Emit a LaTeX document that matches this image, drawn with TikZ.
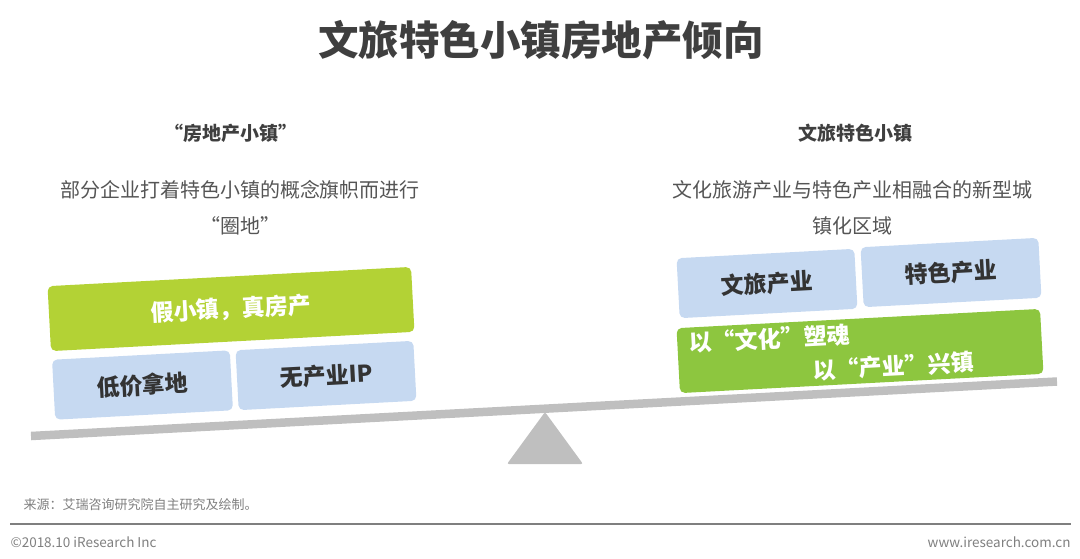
\documentclass[tikz,border=0pt]{standalone}
\usepackage{fontspec}
\setmainfont{Noto Sans CJK SC}
\usepackage{xcolor}
\usetikzlibrary{calc}
\definecolor{titlegray}{HTML}{3F3F3F}
\definecolor{descgray}{HTML}{555555}
\definecolor{footgray}{HTML}{7F7F7F}
\definecolor{beamgray}{HTML}{BFBFBF}
\definecolor{boxblue}{HTML}{C6D9F1}
\definecolor{boxtext}{HTML}{333333}
\definecolor{leftgreen}{HTML}{B3D235}
\definecolor{rightgreen}{HTML}{8DC63F}

\begin{document}
\begin{tikzpicture}[x=1pt,y=-1pt,
    box/.style={rotate=3.04, rounded corners=5pt, inner sep=0pt,
        minimum width=178pt, minimum height=60pt,
        font=\fontsize{23}{34}\selectfont\bfseries},
    bluebox/.style={box, fill=boxblue, text=boxtext},
    greenbox/.style={box, text=white, minimum width=364pt, minimum height=65pt},
    head/.style={text=titlegray, font=\fontsize{19}{24}\selectfont\bfseries},
    desc/.style={text=descgray, align=center, font=\fontsize{20}{36}\selectfont},
    foot/.style={text=footgray, font=\fontsize{13.5}{16}\selectfont}]
			\useasboundingbox (0,0) rectangle (1080,558);
			\coordinate (L) at (31,436);
			\coordinate (R) at (1057,381.5);
			\coordinate (T) at (545,412);
			\coordinate (P) at (507,464);
			\coordinate (Q) at (583,464);
			\coordinate (F1) at (10,524);
			\coordinate (F2) at (1071,524);
			\fill[beamgray, rounded corners=2pt] (T) -- (Q) -- (P) -- cycle;
			\draw[beamgray, line width=8.5pt] (L) -- (R);
			\node[text=titlegray, font=\fontsize{40.5}{44}\selectfont\bfseries] (title) at (541,40) {文旅特色小镇房地产倾向};
			\node[head] (lh) at (231,133) {“房地产小镇”};
			\node[desc] (ld) at (240,208) {部分企业打着特色小镇的概念旗帜而进行\\“圈地”};
			\node[head] (rh) at (855,133) {文旅特色小镇};
			\node[desc] (rd) at (852,208) {文化旅游产业与特色产业相融合的新型城\\镇化区域};
			\node[greenbox, fill=leftgreen] (fake) at (231,309) {假小镇，真房产};
			\node[bluebox] (land) at (142.5,385) {低价拿地};
			\node[bluebox] (noip) at (326,375.5) {无产业IP};
			\node[bluebox] (tour) at (767,283.5) {文旅产业};
			\node[bluebox] (feat) at (951,272.5) {特色产业};
			\node[greenbox, fill=rightgreen, text width=340pt, align=left] (soul) at (860,351) {以“文化”塑魂\\\hspace*{122pt}以“产业”兴镇};
			\node[foot, anchor=west, font=\fontsize{13}{15}\selectfont] (src) at (20,505) {来源：艾瑞咨询研究院自主研究及绘制。};
			\draw[footgray, line width=1.5pt] (F1) -- (F2);
			\node[foot, anchor=west] (copy) at (7,542) {©2018.10 iResearch Inc};
			\node[foot, anchor=east] (web) at (1074,542) {www.iresearch.com.cn};
		\end{tikzpicture}
\end{document}
